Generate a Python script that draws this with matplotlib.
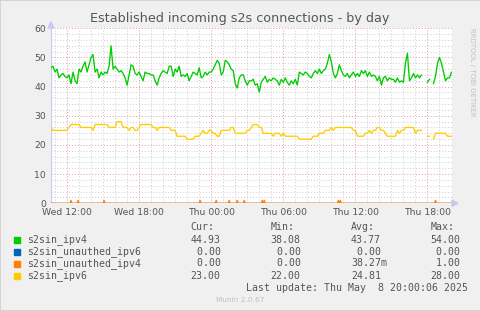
import numpy as np
import matplotlib
matplotlib.use("Agg")
import matplotlib.pyplot as plt
from matplotlib.patches import Rectangle

# --- data ------------------------------------------------------------------
title = "Established incoming s2s connections - by day"
start_hour = 10 + 40 / 60.0     # Wed 10:40, hours since Wed 00:00
step_min = 10                  # sampling of the series below

ipv4 = [
    46.5, 47, 45, 46, 43, 44, 44.5, 43.5, 43, 44,
    41, 45, 42, 41, 46, 45, 47, 48.5, 45, 47.5,
    50, 51, 45, 46, 43, 45, 44, 45, 44.5, 47,
    54, 46, 47, 46, 45, 45.5, 44.5, 43, 40.5, 44,
    47.5, 47, 44.5, 44, 45, 43.5, 42, 45, 44.5, 44.5,
    44, 44, 42, 40.5, 43, 44.5, 45.5, 45, 44.5, 47,
    47, 43.5, 46, 45, 47, 43.5, 44, 43.5, 44.5, 42,
    43.5, 45, 44.5, 44, 46.5, 43, 43.5, 45, 44, 45,
    45, 46, 47.5, 49, 48, 44, 45, 49, 48.5, 47.5,
    46, 45.5, 41, 39.5, 43, 44, 44, 42, 40.5, 42,
    42, 42.5, 40.5, 41, 38.1, 41.5, 42.5, 43.5, 41.5, 42.5,
    42, 43, 42.5, 42, 40.5, 42.5, 41.5, 43, 41.5, 40.5,
    42, 41, 42.5, 40.5, 45, 44.5, 44, 45, 44.5, 43.5,
    43, 44.5, 45.5, 44.5, 46, 44.5, 45.5, 46, 48, 51,
    48.5, 44.5, 43, 44.5, 47.5, 45.5, 44, 43.5, 44.5, 43,
    44, 45, 43.5, 44.5, 43.5, 45.5, 44.5, 45.5, 43.5, 45,
    43.5, 44, 43.5, 42, 43.5, 40.5, 43, 43.5, 42, 43,
    42.5, 42.5, 41.5, 43, 41.5, 42, 41.5, 48, 51.5, 42,
    43, 44.5, 43, 44, 43, 44, np.nan, np.nan, 41.5, 42.5,
    np.nan, 41, 43.5, 48, 50, 48, 45, 42, 43, 43,
    44.93,
]

ipv6 = [
    26, 25, 25, 25, 25, 25, 25, 25, 25, 26,
    27, 27, 27, 27, 27, 26, 26, 26, 26, 26,
    26, 25, 27, 27, 27, 27, 27, 27, 27, 26,
    26, 26, 26, 28, 28, 28, 26, 26, 26, 25,
    26, 26, 25, 25, 26, 27, 27, 27, 27, 27,
    27, 26, 26, 25, 26, 26, 26, 26, 26, 26,
    25, 25, 25, 23, 23, 23, 23, 23, 22, 22,
    22, 22, 23, 23, 23, 24, 25, 24, 24, 25,
    25, 24, 24, 23, 23, 25, 25, 25, 25, 25,
    26, 26, 24, 24, 24, 24, 24, 24, 25, 25,
    26, 27, 27, 27, 26, 26, 24, 24, 24, 24,
    24, 23, 24, 24, 24, 23, 24, 23, 23, 23,
    23, 23, 23, 23, 22, 22, 22, 22, 22, 22,
    22, 23, 23, 23, 24, 24, 24, 25, 25, 25,
    26, 25, 26, 26, 26, 26, 26, 26, 26, 26,
    26, 25, 25, 23, 23, 23, 23, 24, 24, 25,
    24, 25, 25, 26, 26, 25, 25, 24, 23, 23,
    23, 23, 23, 25, 24, 25, 25, 26, 26, 26,
    26, 26, 24, 25, 25, 25, np.nan, np.nan, 23, 23,
    np.nan, 22, 24, 24, 24, 24, 24, 24, 23, 23,
    23,
]

# s2sin_unauthed_ipv4 jumps to 1 for single 5 min samples
unauthed_ipv4_spikes = [
    "Wed 12:20", "Wed 12:55", "Wed 15:05", "Wed 23:05", "Thu 00:25",
    "Thu 01:30", "Thu 02:10", "Thu 02:45", "Thu 04:15", "Thu 04:25",
    "Thu 10:35", "Thu 10:45", "Thu 18:40",
]

tick_hours = [12, 18, 24, 30, 36, 42]
tick_labels = ["Wed 12:00", "Wed 18:00", "Thu 00:00", "Thu 06:00",
               "Thu 12:00", "Thu 18:00"]

names = ["s2sin_ipv4", "s2sin_unauthed_ipv6", "s2sin_unauthed_ipv4", "s2sin_ipv6"]
colors = ["#00cc00", "#0066b3", "#ff8000", "#ffcc00"]
cur = ["44.93", " 0.00", " 0.00", "23.00"]
vmin = ["38.08", " 0.00", " 0.00", "22.00"]
avg = ["43.77", " 0.00", "38.27m", "24.81"]
vmax = ["54.00", " 0.00", " 1.00", "28.00"]

# --- build series -----------------------------------------------------------
t = start_hour + np.arange(len(ipv4)) * step_min / 60.0
t5 = start_hour + np.arange(401) * 5 / 60.0
unauthed_ipv4 = np.zeros_like(t5)
for s in unauthed_ipv4_spikes:
    day, hm = s.split()
    h, m = hm.split(":")
    hrs = int(h) + int(m) / 60.0 + (24 if day == "Thu" else 0)
    unauthed_ipv4[int(round((hrs - start_hour) * 12))] = 1
unauthed_ipv6 = np.zeros_like(t5)

W, H = 481, 311
fig = plt.figure(figsize=(W / 100, H / 100), dpi=100, facecolor="#f0f0f0")


def fx(x):
    return x / W


def fy(y):
    return 1 - y / H


x0, x1, ytop, ybot = 51, 451.5, 28.3, 203.3
ax = fig.add_axes([fx(x0), fy(ybot), fx(x1) - fx(x0), fy(ytop) - fy(ybot)])
ax.set_facecolor("white")
ax.set_xlim(start_hour, 44.0)
ax.set_ylim(0, 60)

# grid
for h in range(11, 44):
    if h in tick_hours:
        continue
    ax.axvline(h, color="#cccccc", lw=0.7, ls=(0, (1, 2)), zorder=1)
for v in range(2, 60, 2):
    if v % 10:
        ax.axhline(v, color="#cccccc", lw=0.7, ls=(0, (1, 2)), zorder=1)
for h in tick_hours:
    ax.axvline(h, color="#e29a9a", lw=0.7, ls=(0, (1, 2)), zorder=1.5)
for v in range(10, 61, 10):
    ax.axhline(v, color="#e29a9a", lw=0.7, ls=(0, (1, 2)), zorder=1.5)

ax.plot(t, ipv4, color=colors[0], lw=0.95, zorder=3)
ax.plot(t5, unauthed_ipv6, color=colors[1], lw=0.95, zorder=3)
ax.plot(t5, unauthed_ipv4, color=colors[2], lw=0.95, zorder=3)
ax.plot(t, ipv6, color=colors[3], lw=0.95, zorder=3)

for sp in ax.spines.values():
    sp.set_visible(False)
ax.axvline(start_hour, color="#c8c8f0", lw=0.8, zorder=2)

ax.set_xticks(tick_hours)
ax.set_xticklabels(tick_labels)
ax.set_yticks(range(0, 61, 10))
ax.tick_params(length=0, labelsize=6.7, colors="#555555", pad=3.5)
ax.tick_params(axis="x", pad=3.5)

# axis arrows
fig.patches.append(plt.Polygon([[fx(48), fy(28)], [fx(54), fy(28)], [fx(51), fy(22)]],
                               closed=True, color="#c8c8f0", transform=fig.transFigure))
fig.patches.append(plt.Polygon([[fx(452), fy(200)], [fx(452), fy(206.5)], [fx(458), fy(203.3)]],
                               closed=True, color="#c8c8f0", transform=fig.transFigure))

fig.text(fx(240), fy(18.5), title, ha="center", va="center", fontsize=9.2, color="#555555")
fig.text(fx(472), fy(28), "RRDTOOL / TOBI OETIKER", rotation=270, ha="center", va="top",
         fontsize=5, color="#c0c0c0")

# legend table
mono = "DejaVu Sans Mono"
fs = 7.1
cols = [190.7, 270.7, 351, 430.5]
for x, hdr in zip(cols, ["Cur:", "Min:", "Avg:", "Max:"]):
    fig.text(fx(x), fy(227.5), hdr, family=mono, fontsize=fs, color="#555555", va="center")
rows = [240, 251.7, 263.5, 275.8]
for i, y in enumerate(rows):
    fig.patches.append(Rectangle((fx(14), fy(y + 3.2)), fx(6.2), 6.2 / H,
                                 color=colors[i], transform=fig.transFigure))
    fig.text(fx(26.7), fy(y), names[i], family=mono, fontsize=fs, color="#555555", va="center")
    for x, val in zip(cols, [cur[i], vmin[i], avg[i], vmax[i]]):
        fig.text(fx(x), fy(y), val, family=mono, fontsize=fs, color="#555555", va="center")
fig.text(fx(245.7), fy(287.7), "Last update: Thu May  8 20:00:06 2025", family=mono,
         fontsize=fs, color="#555555", va="center")
fig.text(fx(240), fy(300), "Munin 2.0.67", ha="center", va="center", fontsize=5.3,
         color="#c0c0c0")

fig.patches.append(Rectangle((0, 0), 1, 1, fill=False, ec="#d0d0d0", lw=1.2,
                             transform=fig.transFigure))

fig.savefig("out.png", dpi=100, facecolor=fig.get_facecolor())
